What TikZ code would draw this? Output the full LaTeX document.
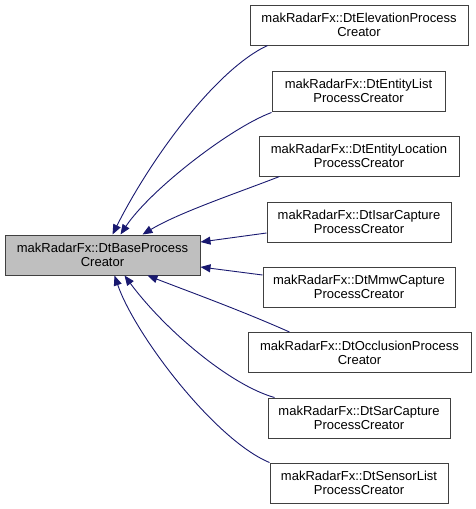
\documentclass[tikz,border=0pt]{standalone}
\usepackage{fontspec}
\setmainfont{Liberation Sans}
\usetikzlibrary{arrows.meta}
\definecolor{edgecol}{HTML}{191970}
\definecolor{boxline}{HTML}{404040}
\definecolor{basefill}{HTML}{BFBFBF}
\begin{document}
\begin{tikzpicture}[x=1pt,y=-1pt,
  cls/.style={draw=boxline, line width=1pt, fill=white, rectangle, inner sep=0pt,
    minimum height=40pt, align=center,
    font=\fontsize{13}{14}\selectfont},
  edge/.style={draw=edgecol, line width=0.9pt, -{Triangle[length=10pt,width=8pt]}}]
\useasboundingbox (0,0) rectangle (476,509);
\node[cls, fill=basefill, minimum width=195pt] (base) at (102.5,255) {makRadarFx::DtBaseProcess\\Creator};
\node[cls, minimum width=218pt] (elev) at (359,25) {makRadarFx::DtElevationProcess\\Creator};
\node[cls, minimum width=173pt] (elist) at (358.5,91) {makRadarFx::DtEntityList\\ProcessCreator};
\node[cls, minimum width=200pt] (eloc) at (359,156) {makRadarFx::DtEntityLocation\\ProcessCreator};
\node[cls, minimum width=184pt] (isar) at (359,222) {makRadarFx::DtIsarCapture\\ProcessCreator};
\node[cls, minimum width=192pt] (mmw) at (359,287) {makRadarFx::DtMmwCapture\\ProcessCreator};
\node[cls, minimum width=223pt] (occ) at (359.5,352.5) {makRadarFx::DtOcclusionProcess\\Creator};
\node[cls, minimum width=182pt] (sar) at (359,418) {makRadarFx::DtSarCapture\\ProcessCreator};
\node[cls, minimum width=178pt] (slist) at (359,483) {makRadarFx::DtSensorList\\ProcessCreator};
% edges
\draw[edge] ([xshift=18pt]elev.south west) .. controls (215,70) and (150,160) .. ([xshift=108pt]base.north west);
\draw[edge] ([yshift=-1pt]elist.south west) .. controls (230,128) and (150,190) .. ([xshift=116pt]base.north west);
\draw[edge] ([xshift=21pt]eloc.south west) .. controls (240,192) and (180,212) .. ([xshift=138pt]base.north west);
\draw[edge] ([yshift=-11pt]isar.west) -- ([yshift=13pt]base.east);
\draw[edge] ([yshift=12pt]mmw.west) -- ([yshift=-12pt]base.east);
\draw[edge] ([xshift=42pt]occ.north west) .. controls (240,310) and (190,292) .. ([xshift=143pt]base.south west);
\draw[edge] ([xshift=7pt]sar.north west) .. controls (230,385) and (165,330) .. ([xshift=120pt]base.south west);
\draw[edge] (slist.north west) .. controls (215,440) and (135,335) .. ([xshift=110pt]base.south west);
\end{tikzpicture}
\end{document}
